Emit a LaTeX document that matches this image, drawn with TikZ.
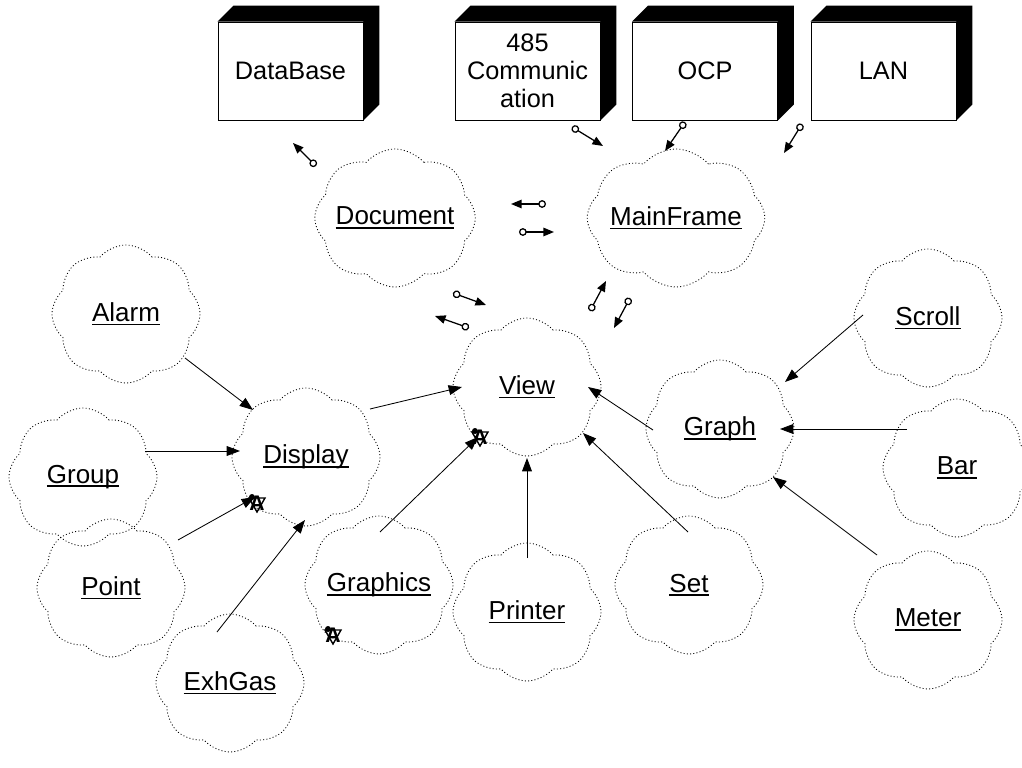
\documentclass[tikz,border=0pt]{standalone}
\usepackage{fontspec}
\setmainfont{Liberation Sans}
\usetikzlibrary{shapes.symbols,arrows.meta}
% underlined class name with a fixed underline position
\newcommand\ulname[1]{\setbox0=\hbox{#1}\rlap{\rule[-2.8pt]{\wd0}{1.3pt}}\box0}
\tikzset{
  klass/.style={cloud, cloud puffs=8, cloud puff arc=100, cloud ignores aspect,
    minimum width=3.7cm, minimum height=3.45cm, inner sep=0pt, draw,
    line width=0.6pt, dash pattern=on 0.7pt off 1.6pt,
    font=\fontsize{18.5}{21}\selectfont},
  device/.style={draw, line width=0.6pt, rectangle, minimum width=3.625cm,
    minimum height=2.45cm, align=center, inner sep=0pt,
    font=\fontsize{18}{20}\selectfont},
  gen/.style={-{Triangle[length=9.5pt,width=7pt]}, line width=0.6pt},
  msg/.style={{Circle[open,length=5.5pt,width=5.5pt]}-{Triangle[length=7.5pt,width=6pt]}, line width=0.9pt},
  abstractmark/.pic={
    \draw[line width=1pt] (-8,-5) -- (8,-5) -- (0,9) -- cycle;
    \node[font=\bfseries\fontsize{15}{15}\selectfont, inner sep=0pt,
      draw=black, line width=0.4pt, draw opacity=0, text=black] {A};
    \fill (-5,-6) circle (3);
  }
}
\begin{document}
\begin{tikzpicture}[x=0.025cm,y=-0.025cm]
\useasboundingbox (0,0) rectangle (1022,768);
\clip (0,0) rectangle (1022,768);

% processors / devices
\node[device] (db)   at (290.5,71) {DataBase};
\node[device] (comm) at (527.5,71) {485\\Communic\\ation};
\node[device] (ocp)  at (705,71)   {OCP};
\node[device] (lan)  at (883.5,71) {LAN};
\foreach \n in {db,comm,ocp,lan}
  \fill (\n.north west) -- ([shift={(16,-16)}]\n.north west)
     -- ([shift={(16,-16)}]\n.north east) -- ([shift={(16,-16)}]\n.south east)
     -- (\n.south east) -- (\n.north east) -- cycle;

% classes
\node[klass] (Document)  at (395,218) {\ulname{Document}};
\node[klass] (MainFrame) at (676,218) {\ulname{MainFrame}};
\node[klass] (Alarm)     at (126,314) {\ulname{Alarm}};
\node[klass] (Group)     at (83,477)  {\ulname{Group}};
\node[klass] (Point)     at (111,588) {\ulname{Point}};
\node[klass] (ExhGas)    at (230,683) {\ulname{ExhGas}};
\node[klass] (Display)   at (306,457) {\ulname{Display}};
\node[klass] (Graphics)  at (379,585) {\ulname{Graphics}};
\node[klass] (View)      at (527,387) {\ulname{View}};
\node[klass] (Printer)   at (527,612) {\ulname{Printer}};
\node[klass] (Graph)     at (720,429) {\ulname{Graph}};
\node[klass] (Scroll)    at (928,318) {\ulname{Scroll}};
\node[klass] (Bar)       at (957,468) {\ulname{Bar}};
\node[klass] (Set)       at (689,585) {\ulname{Set}};
\node[klass] (Meter)     at (928,620) {\ulname{Meter}};

% inheritance
\draw[gen] ([shift={(59,44)}]Alarm.center)   -- ([shift={(-53,-47)}]Display.center);
\draw[gen] ([shift={(62,-26)}]Group.center)  -- ([shift={(-66,-6)}]Display.center);
\draw[gen] ([shift={(67,-48)}]Point.center)  -- ([shift={(-51,40)}]Display.center);
\draw[gen] ([shift={(-13,-51)}]ExhGas.center) -- ([shift={(-1,63)}]Display.center);
\draw[gen] ([shift={(64,-48)}]Display.center) -- ([shift={(-65,0)}]View.center);
\draw[gen] ([shift={(1,-53)}]Graphics.center) -- ([shift={(-49,50)}]View.center);
\draw[gen] ([shift={(0,-54)}]Printer.center) -- ([shift={(0,71)}]View.center);
\draw[gen] ([shift={(-1,-53)}]Set.center)    -- ([shift={(56,46)}]View.center);
\draw[gen] ([shift={(-67,1)}]Graph.center)   -- ([shift={(61,0)}]View.center);
\draw[gen] ([shift={(-65,-3)}]Scroll.center) -- ([shift={(65,-47)}]Graph.center);
\draw[gen] ([shift={(-50,-39)}]Bar.center)   -- ([shift={(60,0)}]Graph.center);
\draw[gen] ([shift={(-51,-65)}]Meter.center) -- ([shift={(53,48)}]Graph.center);

% abstract adornments
\pic at ([shift={(-47,50)}]View.center) {abstractmark};
\pic at ([shift={(-49,46)}]Display.center) {abstractmark};
\pic at ([shift={(-46,50)}]Graphics.center) {abstractmark};

% messages
\foreach \i/\a/\b/\c/\d in {1/316/166/293/143, 2/572/127/603/146, 3/685/122/665/151,
    4/802/124/784/153, 5/546/204/511/204, 6/519/232/554/232, 7/453/293/486/305,
    8/469/328/435/316, 9/590/311/606/281, 10/630/298/614/328} {
  \coordinate (m\i t) at (\a,\b);
  \coordinate (m\i h) at (\c,\d);
  \draw[msg] (m\i t) -- (m\i h);
}
\end{tikzpicture}
\end{document}
